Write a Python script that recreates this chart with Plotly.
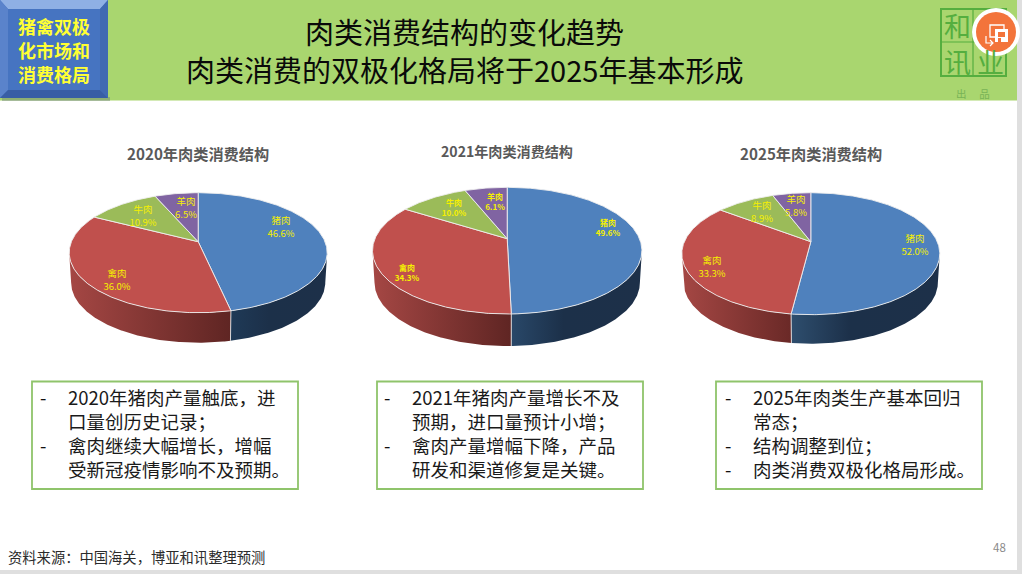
import math
import plotly.graph_objects as go

# ---------- data ----------
categories = ["猪肉", "禽肉", "牛肉", "羊肉"]
values_2020 = [46.6, 36.0, 10.9, 6.5]
values_2021 = [49.6, 34.3, 10.0, 6.1]
values_2025 = [52.0, 33.3, 8.9, 5.8]
chart_titles = ["2020年肉类消费结构", "2021年肉类消费结构", "2025年肉类消费结构"]
title_lines = ["肉类消费结构的变化趋势", "肉类消费的双极化格局将于2025年基本形成"]
badge_lines = ["猪禽双极", "化市场和", "消费格局"]
notes_2020 = [("-", "2020年猪肉产量触底，进"), ("", "口量创历史记录；"),
              ("-", "禽肉继续大幅增长，增幅"), ("", "受新冠疫情影响不及预期。")]
notes_2021 = [("-", "2021年猪肉产量增长不及"), ("", "预期，进口量预计小增；"),
              ("-", "禽肉产量增幅下降，产品"), ("", "研发和渠道修复是关键。")]
notes_2025 = [("-", "2025年肉类生产基本回归"), ("", "常态；"),
              ("-", "结构调整到位；"), ("-", "肉类消费双极化格局形成。")]
source_text = "资料来源：中国海关，博亚和讯整理预测"
page_number = "48"

# ---------- layout constants ----------
FONT = "Noto Sans CJK SC"
W, H = 1022, 574
slice_colors = ["#4f81bd", "#c0504d", "#9bbb59", "#8064a2"]
side_scales = {
    0: lambda t0: [[0, "#2e4e6e" if t0 < -0.05 else ("#294869" if t0 < 0.1 else "#1f3a57")],
                   [0.4, "#1c3049"], [1, "#1d3049"]],
    1: lambda t0: [[0, "#a54744"], [1, "#6a2927" if t0 < 0 else "#5f2523"]],
}
pies = [
    dict(values=values_2020, ax=198.2, ay=241.7, top=49.0, bot=71.0, rx=129.0, depth=30,
         label_size=9.5, label_bold=False, title_x=198, title_y=155, title_size=15.2,
         labels=[(281, 228), (117, 281), (143, 217), (186, 209)]),
    dict(values=values_2021, ax=507.2, ay=238.7, top=51.4, bot=75.3, rx=134.7, depth=32,
         label_size=8, label_bold=True, title_x=506.5, title_y=153, title_size=14.1,
         labels=[(608, 229), (407, 274), (454, 209), (495, 203)]),
    dict(values=values_2025, ax=810.8, ay=241.7, top=49.0, bot=73.0, rx=129.0, depth=29,
         label_size=9.5, label_bold=False, title_x=811, title_y=155, title_size=15.2,
         labels=[(915, 246), (712, 268), (762, 213), (796, 207)]),
]
boxes = [
    dict(x0=32, x1=298, dash=43, text=68, notes=notes_2020, y=435),
    dict(x0=377, x1=643, dash=387, text=412, notes=notes_2021, y=435),
    dict(x0=716, x1=982, dash=728, text=753, notes=notes_2025, y=435),
]


def projector(p):
    """Perspective projection of the unit disc, so equal shares foreshorten as in the picture."""
    k = (p["bot"] - p["top"]) / (p["bot"] + p["top"])
    a = p["top"] * (1 + k)
    c = p["rx"] * math.sqrt(1 - k * k)

    def proj(theta, lower=False):
        u, v = math.sin(theta), math.cos(theta)
        w = 1 + k * v
        x = c * u / w
        y = -a * v / w
        if lower:
            return p["ax"] + x * 0.985, p["ay"] + y + p["depth"]
        return p["ax"] + x, p["ay"] + y

    return proj, k


def arange(a0, a1, step=0.01):
    n = max(2, int(abs(a1 - a0) / step) + 1)
    return [a0 + (a1 - a0) * i / (n - 1) for i in range(n)]


fig = go.Figure()

for p in pies:
    proj, k = projector(p)
    total = sum(p["values"])
    bounds = [0.0]
    for val in p["values"]:
        bounds.append(bounds[-1] + val / total * 2 * math.pi)
    vis0 = math.acos(-k)               # right-hand silhouette of the disc
    vis1 = 2 * math.pi - vis0          # left-hand silhouette

    # side walls
    for i in range(len(p["values"])):
        a0, a1 = max(bounds[i], vis0), min(bounds[i + 1], vis1)
        if a1 <= a0:
            continue
        angs = arange(a0, a1)
        up = [proj(t) for t in angs]
        lo = [proj(t, True) for t in reversed(angs)]
        pts = up + lo + [up[0]]
        t0 = (min(q[0] for q in pts) - p["ax"]) / p["rx"]
        t1 = (up[0][0] - p["ax"]) / p["rx"]
        fig.add_trace(go.Scatter(
            x=[q[0] for q in pts], y=[q[1] for q in pts], mode="lines",
            line=dict(width=0), fill="toself",
            fillgradient=dict(type="horizontal", colorscale=side_scales[i](t1 if i == 1 else t0)),
            hoverinfo="skip", showlegend=False))

    # visible vertical edge between slices on the wall
    for b in bounds[1:-1]:
        if vis0 < b < vis1:
            q0, q1 = proj(b), proj(b, True)
            fig.add_trace(go.Scatter(x=[q0[0], q1[0]], y=[q0[1], q1[1]], mode="lines",
                                     line=dict(color="rgba(235,235,235,0.85)", width=1),
                                     hoverinfo="skip", showlegend=False))

    # top faces
    for i, col in enumerate(slice_colors):
        rim = [proj(t) for t in arange(bounds[i], bounds[i + 1])]
        pts = [(p["ax"], p["ay"])] + rim + [(p["ax"], p["ay"])]
        fig.add_trace(go.Scatter(
            x=[q[0] for q in pts], y=[q[1] for q in pts], mode="lines",
            line=dict(color="rgba(238,238,238,0.9)", width=1), fill="toself", fillcolor=col,
            hoverinfo="skip", showlegend=False))

    # data labels
    weight = "<b>{}</b>" if p["label_bold"] else "{}"
    fig.add_trace(go.Scatter(
        x=[q[0] for q in p["labels"]], y=[q[1] for q in p["labels"]], mode="text",
        text=[weight.format(f"{n}<br>{v:.1f}%") for n, v in zip(categories, p["values"])],
        textposition="middle center",
        textfont=dict(family=FONT, size=p["label_size"], color="#f5f000"),
        hoverinfo="skip", showlegend=False))

shapes = []


def rect(x0, y0, x1, y1, fill=None, line=None, lw=0, layer="below"):
    shapes.append(dict(type="rect", xref="x", yref="y", x0=x0, y0=y0, x1=x1, y1=y1,
                       fillcolor=fill or "rgba(0,0,0,0)", layer=layer,
                       line=dict(color=line or "rgba(0,0,0,0)", width=lw)))


def poly(d, fill, layer="below"):
    shapes.append(dict(type="path", xref="x", yref="y", path=d, fillcolor=fill,
                       line=dict(width=0), layer=layer))


# page furniture
rect(0, 0, 1017, 100.5, fill="#a9d66f")
rect(1017, 0, W, H, fill="#dfdfdf")
rect(0, 570, W, H, fill="#dfdfdf")

# bevelled badge
rect(2, 97, 110, 101, fill="rgba(110,130,120,0.45)")
rect(0, 0, 108, 98, fill="#4674c1")
poly("M0,0 L108,0 L100,9 L8,9 Z", "#8fb0e4")
poly("M0,0 L8,9 L8,90 L0,98 Z", "#5a83cb")
poly("M108,0 L108,98 L100,90 L100,9 Z", "#4069b2")
poly("M0,98 L8,90 L100,90 L108,98 Z", "#385ea5")

# seal logo
seal = "#55ae3f"
rect(941, 9, 1006, 76, line=seal, lw=2)
shapes.append(dict(type="line", xref="x", yref="y", x0=973, x1=973, y0=9, y1=76,
                   line=dict(color=seal, width=1.2), layer="below"))
shapes.append(dict(type="line", xref="x", yref="y", x0=941, x1=1006, y0=42, y1=42,
                   line=dict(color=seal, width=1.2), layer="below"))

# floating orange button
shapes.append(dict(type="circle", xref="x", yref="y", x0=972, x1=1020, y0=8, y1=56,
                   fillcolor="#ffffff", line=dict(width=0), layer="above"))
shapes.append(dict(type="circle", xref="x", yref="y", x0=976, x1=1016, y0=12, y1=52,
                   fillcolor="#f3743b", line=dict(width=0), layer="above"))
rect(990, 25, 1004, 37, fill="#f3743b", line="#ffffff", lw=1.3, layer="above")
rect(995, 29, 1008, 42, fill="#ffffff", layer="above")
rect(998, 32, 1005, 37, fill="#f3743b", layer="above")
rect(998, 38, 1001, 42, fill="#f3743b", layer="above")
shapes.append(dict(type="path", xref="x", yref="y",
                   path="M986,36 L986,43 L993,43 M990,40 L993,43 L990,46",
                   line=dict(color="#ffffff", width=1.2), layer="above"))

# note boxes
for b in boxes:
    rect(b["x0"], 381.5, b["x1"], 489, fill="#ffffff", line="#8fc46b", lw=1.8)

annotations = []


def label(x, y, text, size, color="#111111", anchor="center", bold=False):
    annotations.append(dict(
        x=x, y=y - 2, xref="x", yref="y", text=f"<b>{text}</b>" if bold else text,
        showarrow=False, xanchor=anchor, yanchor="middle", align=anchor,
        borderpad=0, borderwidth=0, font=dict(family=FONT, size=size, color=color)))


label(464.5, 33, title_lines[0], 29, "#0a0a0a")
label(464.5, 71, title_lines[1], 29, "#0a0a0a")
for line, y in zip(badge_lines, [27.5, 51.5, 75.5]):
    label(53.5, y, line, 18, "#ffff33", bold=True)
for p, t in zip(pies, chart_titles):
    label(p["title_x"], p["title_y"], t, p["title_size"], "#595959", bold=True)
for b in boxes:
    label(b["dash"], b["y"], "<br>".join(d or "&#160;" for d, _ in b["notes"]), 18.5, "#111111")
    label(b["text"], b["y"], "<br>".join(t for _, t in b["notes"]), 18.5, "#1a1a1a", anchor="left")
label(8, 558, source_text, 14.3, "#2b2b2b", anchor="left")
label(999, 548.5, page_number, 11.5, "#8a8a8a")
label(957, 27, "和", 27, seal)
label(957, 63, "讯", 27, seal)
label(990, 63, "业", 27, seal)
label(973, 95, "出　 品", 10.5, "#78b356")

fig.update_layout(
    width=W, height=H, margin=dict(l=0, r=0, t=0, b=0),
    paper_bgcolor="#ffffff", plot_bgcolor="#ffffff",
    xaxis=dict(range=[0, W], visible=False, fixedrange=True),
    yaxis=dict(range=[H, 0], visible=False, fixedrange=True),
    shapes=shapes, annotations=annotations, showlegend=False, hovermode=False,
)
fig.write_html("out.html", config=dict(displayModeBar=False),
               post_script="document.body.style.margin='0';")
